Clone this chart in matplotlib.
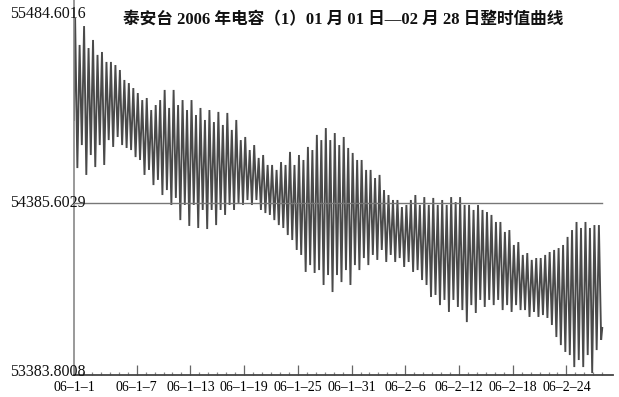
import matplotlib
matplotlib.use("Agg")
import matplotlib.pyplot as plt
from matplotlib.ticker import FixedLocator
import numpy as np

# ---- data ----
title = "泰安台 2006 年电容（1）01 月 01 日—02 月 28 日整时值曲线"
y_min, y_mid, y_max = 53383.8008, 54385.6029, 55484.6016
y_labels = ["53383.8008", "54385.6029", "55484.6016"]
tick_days = [0, 7, 13, 19, 25, 31, 37, 43, 49, 55]
tick_labels = ["06–1–1", "06–1–7", "06–1–13", "06–1–19", "06–1–25",
               "06–1–31", "06–2–6", "06–2–12", "06–2–18", "06–2–24"]
n_days = 59
start_value = 54869
end_value = 53658

# semidiurnal high-water values (one per half day)
highs = [55463, 55306, 55416, 55288, 55335, 55248, 55265, 55207, 55207, 55189,
         55160, 55102, 55084, 55055, 55026, 54985, 54997, 54927, 54956, 54985,
         55044, 54939, 55044, 54956, 54985, 54927, 54985, 54898, 54939, 54869,
         54927, 54857, 54916, 54840, 54910, 54811, 54869, 54752, 54770, 54694,
         54723, 54648, 54665, 54607, 54607, 54578, 54624, 54607, 54683, 54607,
         54665, 54636, 54712, 54694, 54782, 54752, 54822, 54752, 54793, 54723,
         54770, 54706, 54677, 54636, 54636, 54578, 54578, 54531, 54549, 54461,
         54432, 54403, 54403, 54362, 54374, 54403, 54432, 54374, 54420, 54374,
         54415, 54374, 54403, 54374, 54420, 54391, 54420, 54374, 54374, 54345,
         54374, 54345, 54333, 54316, 54275, 54275, 54217, 54228, 54141, 54158,
         54083, 54094, 54054, 54065, 54065, 54083, 54100, 54112, 54123, 54141,
         54188, 54228, 54275, 54240, 54275, 54240, 54257, 54257]
# semidiurnal low-water values (one per half day)
lows = [54589, 54723, 54549, 54665, 54595, 54723, 54607, 54752, 54712, 54770,
        54723, 54706, 54694, 54653, 54636, 54549, 54578, 54490, 54520, 54432,
        54461, 54374, 54415, 54286, 54374, 54252, 54374, 54240, 54345, 54234,
        54345, 54257, 54345, 54316, 54374, 54345, 54386, 54374, 54403, 54374,
        54403, 54345, 54327, 54316, 54286, 54257, 54240, 54199, 54170, 54112,
        54083, 53984, 54024, 53978, 53995, 53908, 53966, 53867, 53966, 53925,
        53995, 53908, 54024, 53995, 54065, 54024, 54083, 54054, 54112, 54042,
        54083, 54042, 54065, 54013, 54042, 53984, 53995, 53937, 53908, 53838,
        53850, 53791, 53821, 53751, 53821, 53780, 53762, 53692, 53791, 53745,
        53821, 53780, 53821, 53791, 53821, 53762, 53791, 53751, 53791, 53762,
        53762, 53722, 53751, 53722, 53733, 53716, 53675, 53605, 53558, 53518,
        53500, 53430, 53471, 53430, 53500, 53395, 53529, 53588]

# ---- build the trace: start, then high/low alternating every quarter day ----
t = [0.0]
v = [start_value]
for k in range(len(highs)):
    t.append(k * 0.5 + 0.125)
    v.append(highs[k])
    t.append(k * 0.5 + 0.375)
    v.append(lows[k])
t.append(float(n_days))
v.append(end_value)

serif = ["Liberation Serif", "Noto Sans CJK SC", "DejaVu Sans"]
plt.rcParams["font.family"] = serif

fig = plt.figure(figsize=(6.19, 3.97), dpi=100)
ax = fig.add_axes([74 / 619, 1 - 375 / 397, (613 - 74) / 619, 375 / 397])
ax.set_xlim(0, 60.2)
ax.set_ylim(y_min, 55567.8)

ax.plot(t, v, color="#4a4a4a", lw=1.35, solid_joinstyle="miter")
ax.plot([0, n_days], [y_mid, y_mid], color="#777777", lw=1.0)

for s in ["top", "right"]:
    ax.spines[s].set_visible(False)
ax.spines["left"].set_color("#888888")
ax.spines["left"].set_linewidth(1.2)
ax.spines["bottom"].set_color("#444444")
ax.spines["bottom"].set_linewidth(1.3)

ax.set_yticks([])
ax.set_xticks(tick_days)
ax.set_xticklabels(tick_labels, fontsize=10)
minor = [d for d in range(1, n_days + 1) if d not in tick_days]
ax.xaxis.set_minor_locator(FixedLocator(minor))
ax.tick_params(axis="x", which="major", direction="in", length=7, width=0.9,
               color="#666666", pad=4)
ax.tick_params(axis="x", which="minor", direction="in", length=2.5, width=0.9,
               color="#888888")

# y-value labels (left aligned, overlapping the axis like the original)
for val, lab, dy in zip([y_min, y_mid, y_max], y_labels, [3 * 5.824, 0, 0]):
    ax.text(-64 / 8.95, val + dy, lab, ha="left", va="center", fontsize=11.5,
            color="#111111", clip_on=False)

fig.text(343 / 619, 1 - 20 / 397, title, ha="center", va="center",
         fontsize=12, fontweight="bold", color="#111111")

fig.savefig("out.png", dpi=100)
